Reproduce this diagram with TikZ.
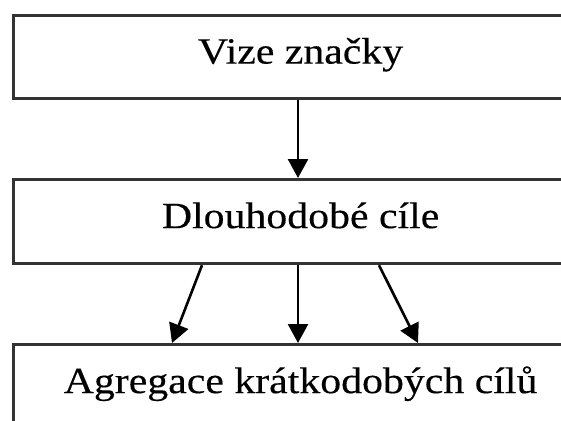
\documentclass[tikz,border=0pt]{standalone}
\usepackage{fontspec}
\setmainfont{Liberation Serif}
\newfontfamily\boxfont[FakeStretch=1.13,FakeBold=0.3]{Liberation Serif}
\usetikzlibrary{arrows.meta,calc}
\begin{document}
\begin{tikzpicture}[x=1pt,y=1pt,
  stepbox/.style={draw=black!80, line width=3.2pt, anchor=north west,
    minimum width=574pt, minimum height=83pt, inner sep=0pt,
    font=\boxfont\fontsize{37}{40}\selectfont, text height=30pt, text depth=17pt},
  conn/.style={line width=2.6pt, -{Triangle[width=20pt,length=19pt]}}]
\useasboundingbox (0,0) rectangle (561,-420);
\clip (0,0) rectangle (561,-420);
\fill[white] (0,0) rectangle (561,-420);
\node[stepbox] (vize) at (12,-14) {Vize značky};
\node[stepbox, minimum height=84pt] (dlouh) at (12,-178) {Dlouhodobé cíle};
\node[stepbox, minimum height=84pt] (agreg) at (12,-343) {Agregace krátkodobých cílů};
\coordinate (d1) at ($(dlouh.south west)+(190,0)$);
\coordinate (d2) at ($(dlouh.south west)+(286,0)$);
\coordinate (d3) at ($(dlouh.south west)+(367,0)$);
\coordinate (a1) at ($(agreg.north west)+(160,0)$);
\coordinate (a2) at ($(agreg.north west)+(286,0)$);
\coordinate (a3) at ($(agreg.north west)+(406,0)$);
\draw[conn] ($(vize.south west)+(286,0)$) -- ($(dlouh.north west)+(286,0)$);
\draw[conn] (d1) -- (a1);
\draw[conn] (d2) -- (a2);
\draw[conn] (d3) -- (a3);
\end{tikzpicture}
\end{document}
